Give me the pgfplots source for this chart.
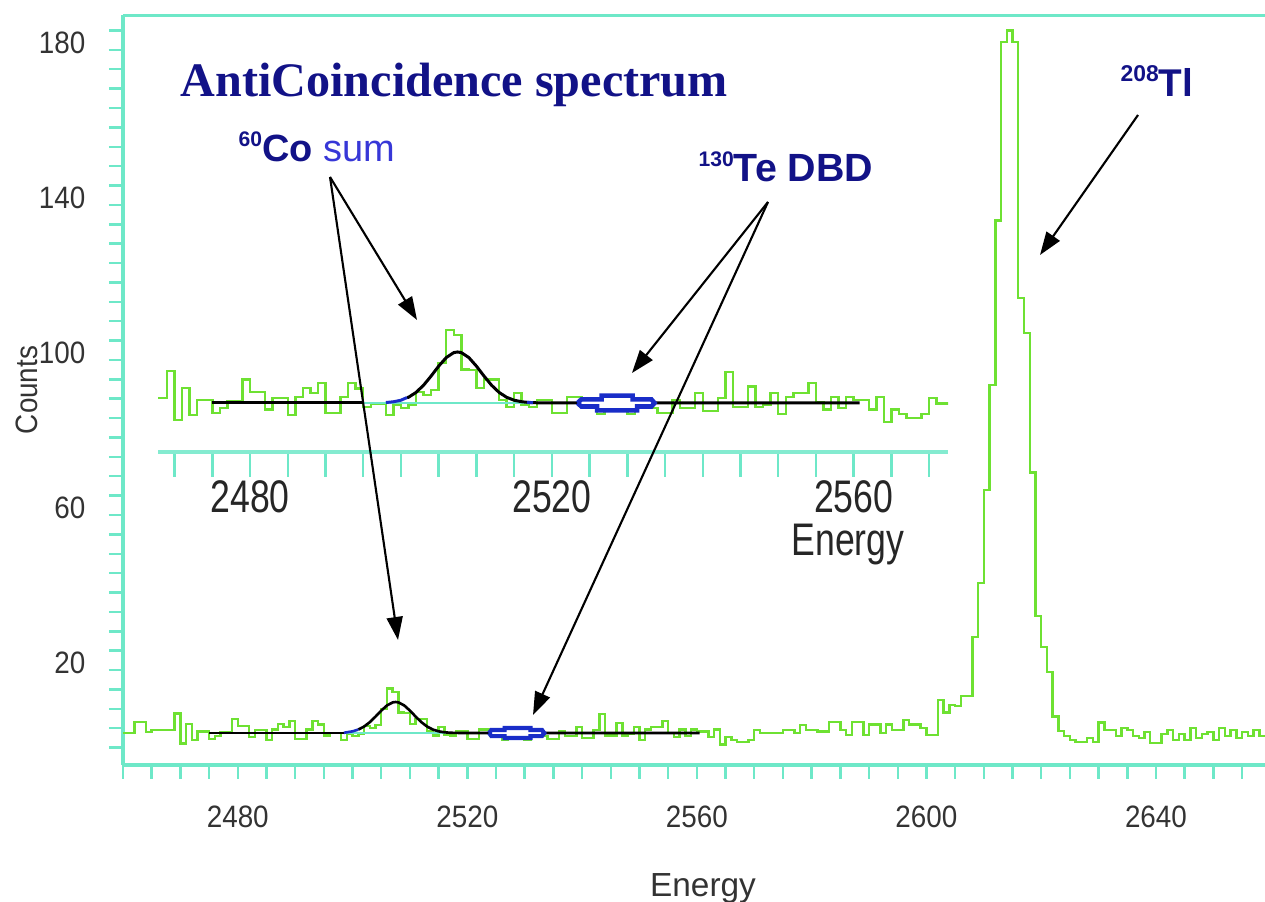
\documentclass[border=0pt]{standalone}
\usepackage{fontspec}
\setmainfont{Liberation Sans}
\newfontfamily\tickfont[FakeStretch=0.9]{Liberation Sans}
\newfontfamily\insetfont[FakeStretch=0.78]{Liberation Sans}
\newfontfamily\titlefont{Liberation Serif}
\usepackage{pgfplots}
\pgfplotsset{compat=1.18}
\usepackage{pgfplotstable}
\usetikzlibrary{arrows.meta}

\definecolor{axcyan}{RGB}{110,232,200}
\definecolor{spec}{RGB}{110,225,50}
\definecolor{navy}{RGB}{18,18,135}
\definecolor{fitblue}{RGB}{25,45,200}
\definecolor{sumblue}{RGB}{55,55,215}

% counts per 1 keV bin (left edge)
\pgfplotstableread{
E c
2460 3.7
2461 3.7
2462 6.6
2463 6.6
2464 4.0
2465 4.5
2466 4.5
2467 4.5
2468 4.5
2469 8.8
2470 1.1
2471 6.1
2472 1.9
2473 4.2
2474 4.2
2475 2.2
2476 3.0
2477 4.0
2478 4.0
2479 7.4
2480 5.5
2481 5.5
2482 2.7
2483 4.5
2484 4.5
2485 1.9
2486 4.7
2487 6.1
2488 5.3
2489 6.9
2490 2.2
2491 2.2
2492 4.7
2493 6.9
2494 6.0
2495 3.1
2496 3.7
2497 3.7
2498 1.9
2499 3.5
2500 3.0
2501 3.5
2502 5.5
2503 5.0
2504 5.8
2505 10.0
2506 15.2
2507 14.4
2508 9.0
2509 8.9
2510 6.1
2511 7.4
2512 7.4
2513 4.2
2514 3.1
2515 5.3
2516 3.4
2517 3.1
2518 4.2
2519 4.2
2520 2.2
2521 2.2
2522 4.7
2523 4.7
2524 3.0
2525 4.0
2526 2.0
2527 5.0
2528 3.0
2529 4.0
2530 2.0
2531 4.0
2532 3.0
2533 3.0
2534 2.2
2535 2.2
2536 4.2
2537 3.0
2538 3.0
2539 5.3
2540 2.5
2541 2.5
2542 4.5
2543 8.6
2544 3.1
2545 3.1
2546 6.3
2547 3.1
2548 3.5
2549 5.3
2550 2.0
2551 4.7
2552 5.3
2553 5.3
2554 6.9
2555 3.8
2556 2.7
2557 4.7
2558 3.0
2559 4.7
2560 4.2
2561 4.2
2562 2.7
2563 4.7
2564 0.8
2565 2.7
2566 2.0
2567 1.4
2568 1.4
2569 2.0
2570 4.5
2571 3.7
2572 3.7
2573 3.7
2574 3.7
2575 4.5
2576 4.5
2577 3.7
2578 5.8
2579 4.5
2580 4.5
2581 4.2
2582 4.2
2583 6.6
2584 6.6
2585 4.5
2586 3.2
2587 6.6
2588 6.6
2589 3.2
2590 6.0
2591 6.0
2592 3.7
2593 6.0
2594 4.5
2595 4.5
2596 7.1
2597 6.0
2598 6.0
2599 5.0
2600 3.2
2601 3.2
2602 12.3
2603 9.0
2604 11.0
2605 10.7
2606 13.3
2607 13.3
2608 28.5
2609 42.5
2610 66.5
2611 93.5
2612 136
2613 182
2614 185
2615 182
2616 116
2617 107
2618 71
2619 34
2620 26
2621 19.5
2622 8.0
2623 4.3
2624 3.0
2625 2.0
2626 1.5
2627 1.5
2628 2.5
2629 1.5
2630 6.5
2631 4.5
2632 4.5
2633 3.0
2634 5.0
2635 4.5
2636 3.0
2637 2.5
2638 4.0
2639 1.2
2640 1.2
2641 3.5
2642 4.5
2643 2.0
2644 3.5
2645 2.0
2646 5.0
2647 2.5
2648 3.5
2649 4.0
2650 2.0
2651 5.0
2652 3.0
2653 4.5
2654 2.5
2655 4.0
2656 3.0
2657 4.5
2658 3.0
2659 3.0
}\spectrum

\pgfplotsset{
  specline/.style={spec, line width=0.7pt, const plot mark left, forget plot},
  fitline/.style={black, line width=0.75pt, forget plot},
}

\begin{document}
\begin{tikzpicture}
\path[use as bounding box] (0,0) rectangle (126.5mm,90.1mm);

% main spectrum
\begin{axis}[
    at={(12.3mm,13.6mm)}, anchor=south west,
    scale only axis, width=114.2mm, height=75mm,
    xmin=2460, xmax=2659, ymin=-4.5, ymax=189,
    axis lines*=left,
    axis line style={-, axcyan, line width=1.1pt},
    tick align=outside,
    major tick length=1.4mm, minor tick length=1.4mm,
    tick style={axcyan, line width=0.7pt},
    xtick={2480,2520,2560,2600,2640},
    xticklabels={2480,2520,2560,2600,2640},
    minor xtick={2460,2465,...,2655},
    ytick={20,60,100,140,180},
    yticklabels={20,60,100,140,180},
    minor ytick={0,5,...,185},
    ticklabel style={font=\tickfont\fontsize{8.8}{10}\selectfont, text=black!80},
    xticklabel style={anchor=center, yshift=-3.8mm},
    yticklabel style={anchor=east, inner sep=0pt, xshift=-2.3mm, yshift=0.7mm},
]
\draw[axcyan, line width=1.1pt] (rel axis cs:0,1) -- (rel axis cs:1,1);
\addplot[specline] table[x=E, y=c] {\spectrum};
\addplot[axcyan, line width=0.6pt, forget plot] coordinates {(2498.5,3.75)(2520.5,3.75)};
\addplot[fitline] coordinates {(2475,3.75)(2498.5,3.75)};
\addplot[fitline] coordinates {
  (2501,4.64)(2502,5.41)(2503,6.54)(2504,7.98)(2505,9.53)(2506,10.87)(2507,11.65)
  (2507.5,11.75)(2508,11.65)(2509,10.87)(2510,9.53)(2511,7.98)(2512,6.54)(2513,5.41)
  (2514,4.64)(2515,4.18)(2516,3.94)(2517,3.82)(2518,3.78)(2519,3.76)(2560.5,3.75)};
\addplot[fitblue, line width=0.75pt, forget plot] coordinates {(2498.5,3.80)(2499,3.94)(2500,4.18)(2501,4.64)};
\addplot[fitblue, line width=1.2pt, fill=white, forget plot] coordinates {
  (2523.8,3.75)(2524.2,4.55)(2526.5,4.55)(2526.5,5.05)(2531,5.05)(2531,4.55)(2533,4.55)
  (2533.4,3.75)(2533,2.95)(2531,2.95)(2531,2.45)(2526.5,2.45)(2526.5,2.95)(2524.2,2.95)
  (2523.8,3.75)};
\end{axis}

% zoomed inset of the same spectrum
\begin{axis}[
    at={(15.8mm,44.9mm)}, anchor=south west,
    scale only axis, width=79mm, height=13.349mm,
    xmin=2467.8, xmax=2572.5, ymin=-3.94, ymax=17,
    axis x line*=bottom, axis y line=none,
    axis line style={-, axcyan!85!white, line width=1.1pt},
    tick align=outside,
    major tick length=2.5mm, minor tick length=2.5mm,
    tick style={axcyan, line width=0.7pt},
    xtick={2480,2520,2560},
    xticklabels={2480,2520,2560},
    minor xtick={2470,2475,...,2570},
    xticklabel style={font=\insetfont\fontsize{13}{14}\selectfont, text=black!85,
      anchor=center, yshift=-2.0mm},
]
\addplot[specline] table[x=E, y=c] {\spectrum};
\addplot[axcyan, line width=0.7pt, forget plot] coordinates {(2495,3.75)(2521,3.75)};
\addplot[fitline, line width=0.85pt] coordinates {(2475,3.75)(2495,3.75)};
\addplot[fitline, line width=0.85pt] coordinates {
  (2500.8,4.6)(2501,4.64)(2502,5.41)(2503,6.54)(2504,7.98)(2505,9.53)(2506,10.87)(2507,11.65)
  (2507.5,11.75)(2508,11.65)(2509,10.87)(2510,9.53)(2511,7.98)(2512,6.54)(2513,5.41)
  (2514,4.64)(2515,4.18)(2516,3.94)(2517,3.82)(2518,3.78)(2519,3.76)(2560.8,3.75)};
\addplot[fitblue, line width=0.85pt, forget plot] coordinates {(2498,3.82)(2499,3.94)(2500,4.18)(2500.8,4.6)};
\addplot[fitblue, line width=0.85pt, forget plot] coordinates {(2516.7,3.86)(2517.5,3.80)};
\addplot[fitblue, line width=1.3pt, fill=white, forget plot] coordinates {
  (2523.4,3.75)(2523.9,4.3)(2526.6,4.3)(2526.6,4.9)(2530.7,4.9)(2530.7,4.3)(2533.2,4.3)
  (2533.6,3.75)(2533.2,3.2)(2531.3,3.2)(2531.3,2.6)(2526,2.6)(2526,3.2)(2523.9,3.2)
  (2523.4,3.75)};
\end{axis}

\begin{scope}[x=0.1mm, y=0.1mm]
% axis titles
\node[font=\fontsize{9.5}{10}\selectfont, text=black!80] at (703,13) {Energy};
\node[font=\tickfont\fontsize{8.8}{10}\selectfont, text=black!80, rotate=90] at (27,511) {Counts};
\node[font=\insetfont\fontsize{13}{14}\selectfont, text=black!85, inner sep=0pt] at (848,356) {Energy};
% annotations
\node[anchor=base west, inner sep=0pt, text=navy, font=\titlefont\bfseries\fontsize{13.7}{15}\selectfont]
  at (180,804) {AntiCoincidence spectrum};
\node[anchor=base west, inner sep=0pt, font=\bfseries\fontsize{10.8}{12}\selectfont]
  at (238,739) {\textcolor{navy}{\raisebox{1.5mm}{\fontsize{6}{6}\selectfont 60}Co}
  \textcolor{sumblue}{\mdseries sum}};
\node[anchor=base west, inner sep=0pt, text=navy, font=\bfseries\fontsize{11.2}{12}\selectfont]
  at (698,719) {\raisebox{1.5mm}{\fontsize{6}{6}\selectfont 130}Te DBD};
\node[anchor=base west, inner sep=0pt, text=navy, font=\bfseries\fontsize{11}{12}\selectfont]
  at (1120,804) {\raisebox{1.5mm}{\fontsize{6.5}{6.5}\selectfont 208}Tl};
\begin{scope}[black, line width=0.6pt, -{Triangle[length=2.3mm,width=1.6mm]}]
\draw (330,724) -- (417,581);
\draw (330,724) -- (398,261);
\draw (768,699) -- (632,528);
\draw (768,699) -- (533,186);
\draw (1138,786) -- (1040,646);
\end{scope}
\end{scope}
\end{tikzpicture}
\end{document}
